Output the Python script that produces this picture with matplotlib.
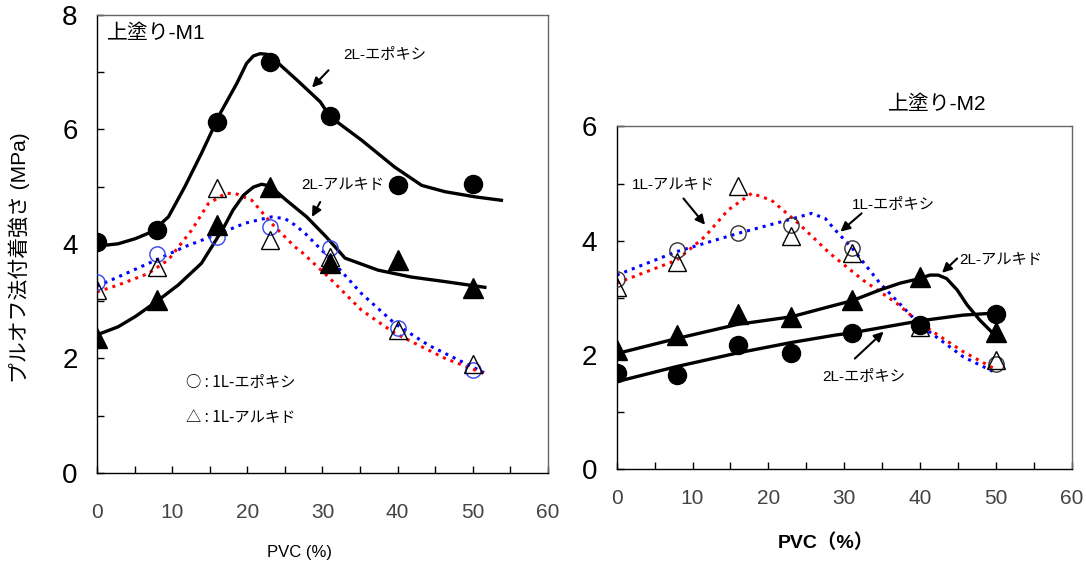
import matplotlib
matplotlib.use("Agg")
import matplotlib.pyplot as plt
from matplotlib.ticker import MultipleLocator

plt.rcParams['font.family'] = ['Liberation Sans', 'Noto Sans CJK JP', 'DejaVu Sans']

# ---- 上塗り-M1 (left) ----
pvc1 = [0, 8, 16, 23, 31, 40, 50]
m1_2L_epoxy = [4.03, 4.24, 6.13, 7.18, 6.23, 5.02, 5.04]
m1_2L_alkyd = [2.35, 3.02, 4.33, 5.0, 3.66, 3.72, 3.22]
m1_1L_epoxy = [3.34, 3.83, 4.12, 4.30, 3.92, 2.53, 1.80]
m1_1L_alkyd = [3.19, 3.60, 4.97, 4.06, 3.77, 2.49, 1.90]

# fitted curves
m1_c_2L_epoxy_x = [0, 2.8, 5.1, 7.3, 9.5, 11.7, 13.9, 16.4, 18.6, 19.9, 20.8, 21.7, 22.6, 23.9, 26.6, 29.7, 31.0, 35.2, 39.6, 43.2, 46.3, 50.3, 53.8]
m1_c_2L_epoxy_y = [3.96, 4.0, 4.09, 4.21, 4.47, 5.0, 5.58, 6.28, 6.80, 7.15, 7.28, 7.32, 7.31, 7.18, 6.86, 6.48, 6.22, 5.81, 5.34, 5.02, 4.91, 4.82, 4.76]
m1_c_2L_alkyd_x = [0, 2.8, 5.1, 7.9, 10.8, 13.9, 16.8, 18.1, 19.5, 20.8, 21.9, 23.0, 25.2, 27.9, 30.5, 33.0, 37.4, 41.8, 46.3, 51.6]
m1_c_2L_alkyd_y = [2.41, 2.55, 2.73, 2.99, 3.28, 3.66, 4.27, 4.59, 4.85, 4.99, 5.04, 5.01, 4.76, 4.47, 4.12, 3.75, 3.54, 3.42, 3.34, 3.24]
m1_c_1L_epoxy_x = [0, 2.8, 7.9, 11.7, 16.1, 19.7, 23.2, 25.0, 26.3, 27.7, 30.8, 35.2, 39.6, 44.1, 48.1, 51.5]
m1_c_1L_epoxy_y = [3.26, 3.42, 3.72, 3.95, 4.17, 4.36, 4.47, 4.44, 4.33, 4.18, 3.77, 3.13, 2.61, 2.23, 1.97, 1.75]
m1_c_1L_alkyd_x = [0, 2.8, 6.8, 9.5, 12.6, 14.8, 17.1, 18.4, 20.6, 23.2, 26.3, 27.2, 30.8, 35.2, 39.6, 46.3, 51.6]
m1_c_1L_alkyd_y = [3.16, 3.28, 3.48, 3.72, 4.24, 4.70, 4.88, 4.88, 4.76, 4.36, 3.95, 3.86, 3.42, 2.84, 2.44, 2.0, 1.73]

# ---- 上塗り-M2 (right) ----
pvc2 = [0, 8, 16, 23, 31, 40, 50]
m2_2L_epoxy = [1.68, 1.65, 2.18, 2.03, 2.38, 2.53, 2.72]
m2_2L_alkyd = [2.09, 2.35, 2.72, 2.67, 2.96, 3.37, 2.41]
m2_1L_epoxy = [3.34, 3.84, 4.14, 4.27, 3.88, 2.55, 1.85]
m2_1L_alkyd = [3.20, 3.63, 4.96, 4.08, 3.78, 2.50, 1.92]

m2_c_2L_epoxy_x = [0.4, 7.9, 16, 23, 28.8, 31, 40, 45.7, 50.3]
m2_c_2L_epoxy_y = [1.55, 1.80, 2.04, 2.22, 2.35, 2.39, 2.60, 2.70, 2.74]
m2_c_2L_alkyd_x = [0.4, 7.9, 16, 23, 28.1, 31, 34.7, 37.4, 40, 41.3, 42.4, 43.5, 44.9, 46.2, 47.9, 50.1]
m2_c_2L_alkyd_y = [2.04, 2.29, 2.54, 2.67, 2.85, 2.95, 3.14, 3.26, 3.34, 3.40, 3.40, 3.34, 3.14, 2.88, 2.61, 2.32]
m2_c_1L_epoxy_x = [0, 7.9, 16, 22.2, 25.7, 27.5, 28.8, 31, 34.7, 40, 45.7, 49.7]
m2_c_1L_epoxy_y = [3.40, 3.81, 4.13, 4.35, 4.48, 4.39, 4.19, 3.88, 3.26, 2.53, 1.97, 1.71]
m2_c_1L_alkyd_x = [0, 7.9, 11.6, 14.7, 17.8, 20.4, 24.0, 28.1, 32.5, 36.9, 40, 45.7, 49.7]
m2_c_1L_alkyd_y = [3.26, 3.66, 4.07, 4.54, 4.83, 4.71, 4.30, 3.78, 3.31, 2.91, 2.56, 2.06, 1.77]

fig = plt.figure(figsize=(10.86, 5.67), dpi=100)
ax1 = fig.add_axes([0.0893, 0.166, 0.4153, 0.808])
ax2 = fig.add_axes([0.5679, 0.172, 0.4189, 0.605])

def style_axes(ax, ymax, xpad, ypad):
    ax.set_xlim(0, 60)
    ax.set_ylim(0, ymax)
    ax.xaxis.set_major_locator(MultipleLocator(10))
    ax.xaxis.set_minor_locator(MultipleLocator(5))
    ax.yaxis.set_major_locator(MultipleLocator(2))
    ax.yaxis.set_minor_locator(MultipleLocator(1))
    ax.tick_params(axis='both', which='both', direction='in', top=False, right=False)
    ax.tick_params(axis='both', which='major', length=5, width=1)
    ax.tick_params(axis='both', which='minor', length=5, width=1)
    ax.tick_params(axis='x', labelsize=15, labelcolor='#444444', pad=xpad)
    ax.tick_params(axis='y', labelsize=20, pad=ypad)
    for s in ax.spines.values():
        s.set_linewidth(1.0)
    for s in ['top', 'right']:
        ax.spines[s].set_color('#666666')

def draw_panel(ax, x, e2, a2, e1, a1, curves, open_circle_color):
    ce2, ca2, ce1, ca1 = curves
    ax.plot(*ce1, ':', color='blue', lw=2.2, zorder=2)
    ax.plot(*ca1, ':', color='red', lw=2.2, zorder=2)
    ax.plot(*ce2, '-', color='black', lw=2.4, zorder=3, solid_joinstyle='round')
    ax.plot(*ca2, '-', color='black', lw=2.4, zorder=3, solid_joinstyle='round')
    ax.plot(x, e1, 'o', ms=11, mfc='none', mec=open_circle_color, mew=1.0, zorder=4)
    ax.plot(x, a1, '^', ms=13, mfc='none', mec='black', mew=1.0, zorder=4)
    ax.plot(x, e2, 'o', ms=13, color='black', zorder=5)
    ax.plot(x, a2, '^', ms=14, color='black', zorder=5)

style_axes(ax1, 8, 22, 14)
style_axes(ax2, 6, 14, 14)

draw_panel(ax1, pvc1, m1_2L_epoxy, m1_2L_alkyd, m1_1L_epoxy, m1_1L_alkyd,
           [(m1_c_2L_epoxy_x, m1_c_2L_epoxy_y), (m1_c_2L_alkyd_x, m1_c_2L_alkyd_y),
            (m1_c_1L_epoxy_x, m1_c_1L_epoxy_y), (m1_c_1L_alkyd_x, m1_c_1L_alkyd_y)],
           '#3344ee')
draw_panel(ax2, pvc2, m2_2L_epoxy, m2_2L_alkyd, m2_1L_epoxy, m2_1L_alkyd,
           [(m2_c_2L_epoxy_x, m2_c_2L_epoxy_y), (m2_c_2L_alkyd_x, m2_c_2L_alkyd_y),
            (m2_c_1L_epoxy_x, m2_c_1L_epoxy_y), (m2_c_1L_alkyd_x, m2_c_1L_alkyd_y)],
           '#333333')

arw = dict(arrowstyle='-|>', color='black', lw=1.5, mutation_scale=14, shrinkA=0, shrinkB=0)
cjk = ['Noto Sans CJK JP', 'DejaVu Sans']

# left annotations
ax1.text(1.3, 7.68, '上塗り-M1', fontsize=15, ha='left', va='center')
ax1.text(38.3, 7.29, '2L-エポキシ', fontsize=11, ha='center', va='center')
ax1.annotate('', xy=(28.6, 6.73), xytext=(30.8, 7.03), arrowprops=arw)
ax1.text(32.7, 5.03, '2L-アルキド', fontsize=11, ha='center', va='center')
ax1.annotate('', xy=(28.6, 4.47), xytext=(29.7, 4.73), arrowprops=arw)
ax1.text(11.8, 1.57, '○ : 1L-エポキシ', fontsize=11, ha='left', va='center', family=cjk)
ax1.text(11.8, 0.96, '△ : 1L-アルキド', fontsize=11, ha='left', va='center', family=cjk)

# right annotations
ax2.text(7.47, 4.97, '1L-アルキド', fontsize=11, ha='center', va='center')
ax2.annotate('', xy=(11.65, 4.28), xytext=(8.8, 4.74), arrowprops=arw)
ax2.text(36.5, 4.62, '1L-エポキシ', fontsize=11, ha='center', va='center')
ax2.annotate('', xy=(29.5, 4.16), xytext=(32.3, 4.48), arrowprops=arw)
ax2.text(50.6, 3.66, '2L-アルキド', fontsize=11, ha='center', va='center')
ax2.annotate('', xy=(42.9, 3.44), xytext=(44.9, 3.69), arrowprops=arw)
ax2.text(32.6, 1.61, '2L-エポキシ', fontsize=11, ha='center', va='center')
ax2.annotate('', xy=(35.2, 2.41), xytext=(31.4, 1.94), arrowprops=arw)

fig.text(0.8628, 0.815, '上塗り-M2', fontsize=15, ha='center', va='center')
fig.text(0.018, 0.545, 'プルオフ法付着強さ (MPa)', fontsize=15, rotation=90,
         ha='center', va='center')
fig.text(0.276, 0.026, 'PVC (%)', fontsize=12, ha='center', va='center')
fig.text(0.7606, 0.042, 'PVC（%）', fontsize=14, fontweight='bold', ha='center', va='center')

fig.savefig('out.png', dpi=100)
